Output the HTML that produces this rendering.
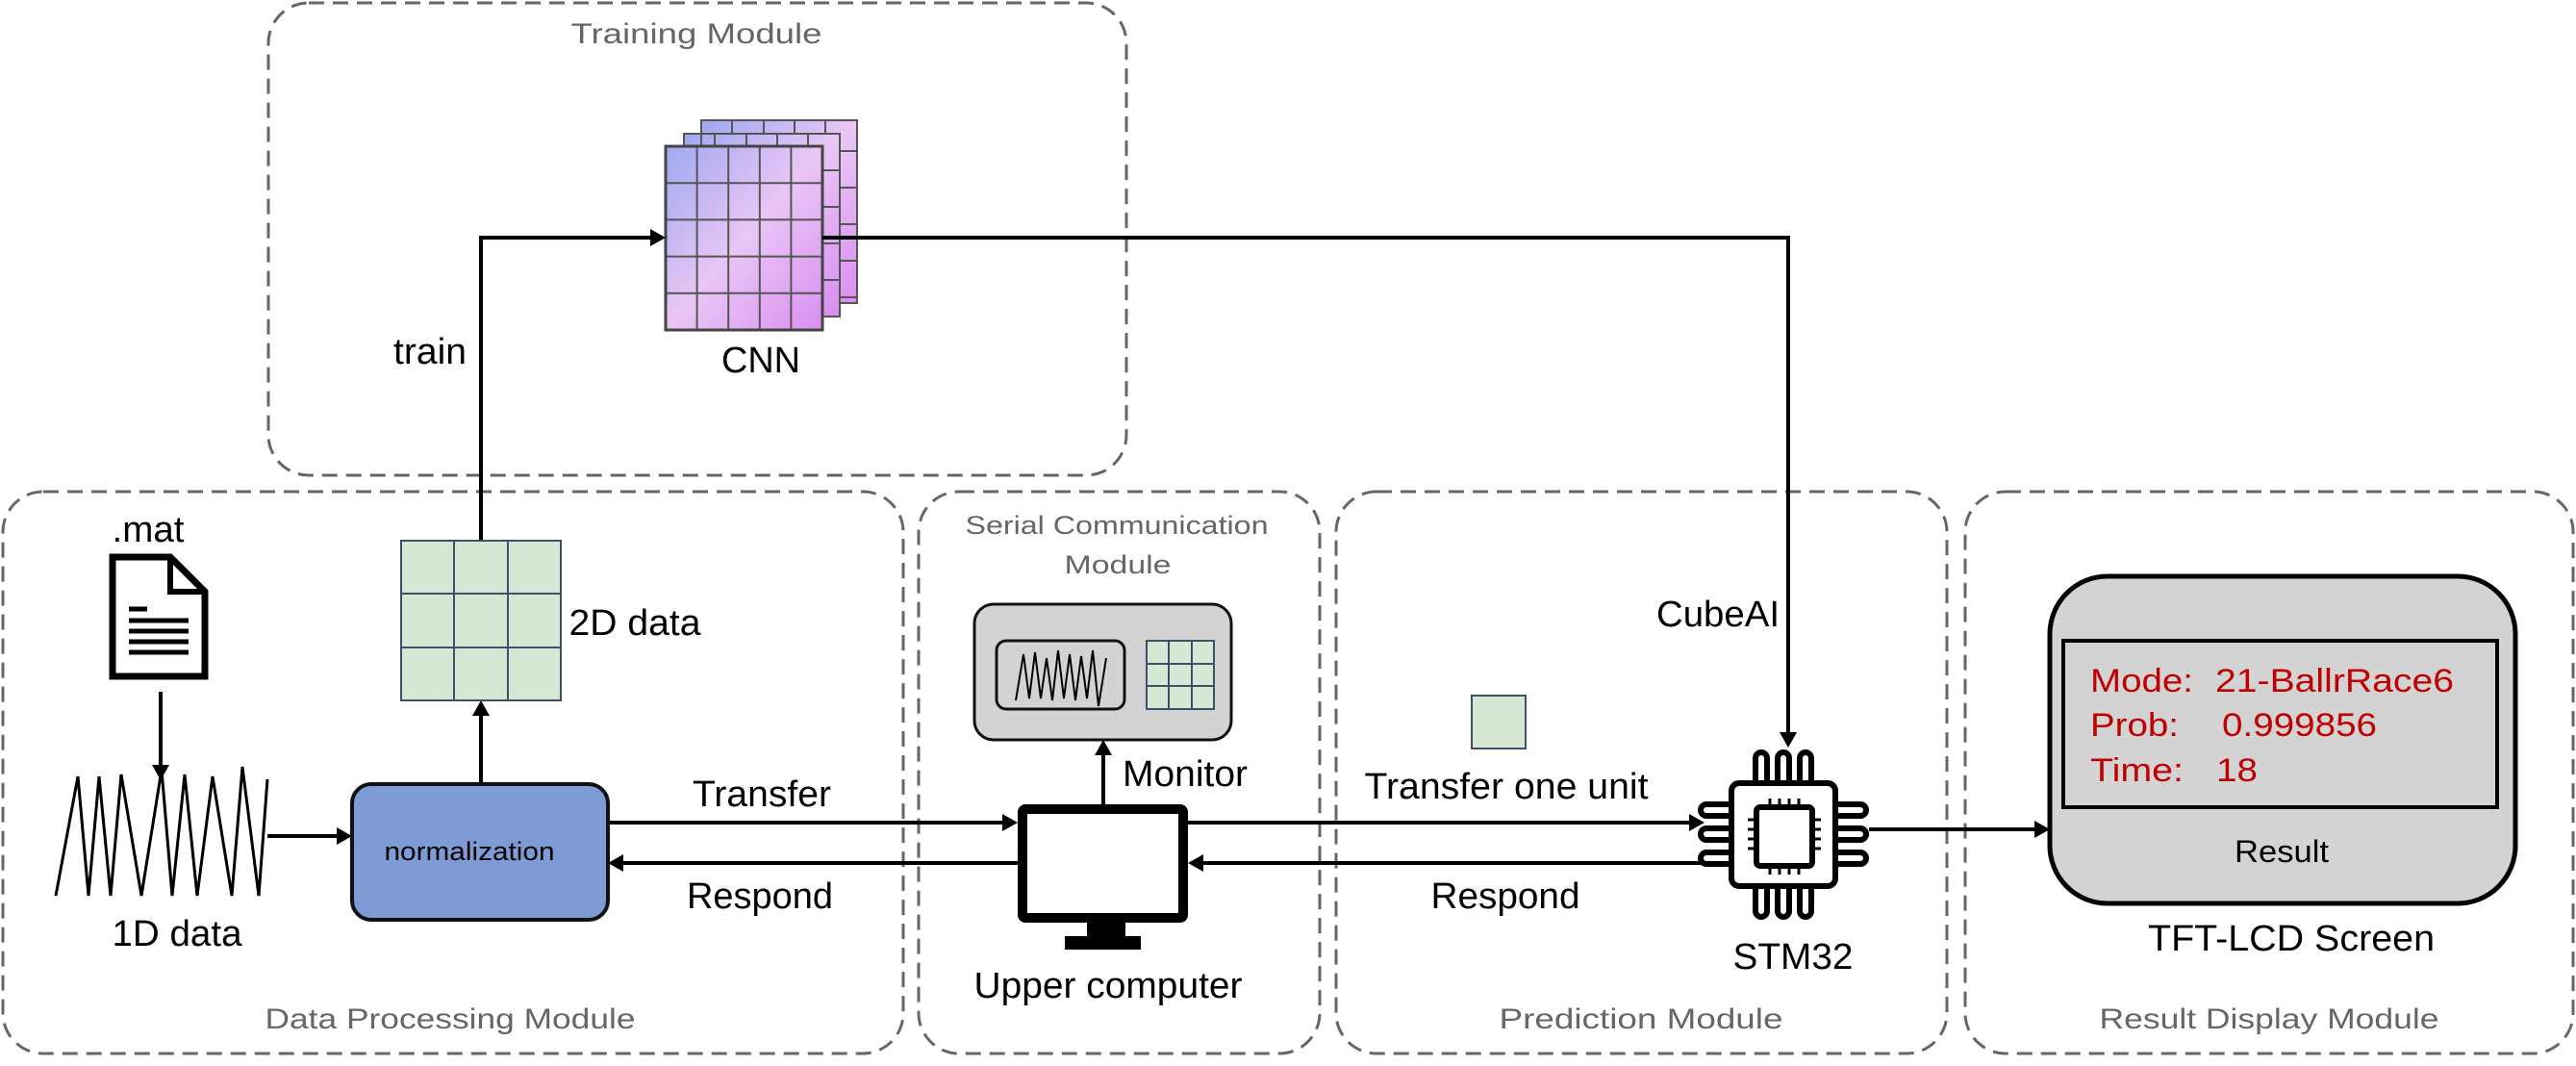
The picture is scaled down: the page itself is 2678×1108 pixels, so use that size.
<!DOCTYPE html>
<html><head><meta charset="utf-8"><style>
html,body{margin:0;padding:0;background:#fff;}
svg{display:block;}
text{font-family:"Liberation Sans",sans-serif;}
</style></head><body>
<svg width="2678" height="1108" viewBox="0 0 2678 1108" xmlns="http://www.w3.org/2000/svg">
<defs>
<marker id="ah" markerWidth="10" markerHeight="10" refX="9" refY="5" orient="auto" markerUnits="userSpaceOnUse" viewBox="0 0 10 10">
</marker>
<linearGradient id="cg" x1="0" y1="0" x2="1" y2="1">
<stop offset="0" stop-color="#9fa8f0"/><stop offset="0.5" stop-color="#e9c6f5"/><stop offset="1" stop-color="#d98ef0"/>
</linearGradient>
</defs>
<!-- module boxes -->
<g fill="none" stroke="#666" stroke-width="3" stroke-dasharray="16 9">
<rect x="279" y="3" width="892" height="491" rx="42"/>
<rect x="3" y="511" width="936" height="584" rx="42"/>
<rect x="955" y="511" width="417" height="584" rx="42"/>
<rect x="1389" y="511" width="635" height="584" rx="42"/>
<rect x="2043" y="511" width="632" height="584" rx="42"/>
</g>
<g fill="#666" font-size="30">
<text x="724" y="45" text-anchor="middle" textLength="261" lengthAdjust="spacingAndGlyphs">Training Module</text>
<text x="468" y="1069" text-anchor="middle" textLength="385" lengthAdjust="spacingAndGlyphs">Data Processing Module</text>
<text x="1161" y="555" text-anchor="middle" textLength="315" lengthAdjust="spacingAndGlyphs" font-size="27">Serial Communication</text>
<text x="1162" y="596" text-anchor="middle" textLength="111" lengthAdjust="spacingAndGlyphs" font-size="27">Module</text>
<text x="1706" y="1069" text-anchor="middle" textLength="295" lengthAdjust="spacingAndGlyphs">Prediction Module</text>
<text x="2359" y="1069" text-anchor="middle" textLength="353" lengthAdjust="spacingAndGlyphs">Result Display Module</text>
</g>
<!-- CNN stack -->
<g stroke="#555" stroke-width="2">
<g transform="translate(729,125)"><rect width="162" height="190" fill="url(#cg)"/></g>
<g transform="translate(711,139)"><rect width="162" height="190" fill="url(#cg)"/></g>
<g transform="translate(692,152)">
<rect width="163" height="191" fill="url(#cg)"/>
<path d="M32.6 0V191M65.2 0V191M97.8 0V191M130.4 0V191M0 38.2H163M0 76.4H163M0 114.6H163M0 152.8H163" fill="none"/>
</g>
<path d="M729 125V152M761 125V139M794 125V139M826 125V139M858 125V139M873 157H891M873 195H891M873 233H891M873 271H891M873 309H891M711 139V152M743 139V152M776 139V152M808 139V152M840 139V152M855 177H873M855 215H873M855 253H873M855 291H873M855 329H873" fill="none"/>
</g>
<rect x="692" y="152" width="163" height="191" fill="none" stroke="#444" stroke-width="3"/>
<g font-size="38" fill="#000">
<text x="791" y="387" text-anchor="middle" textLength="82" lengthAdjust="spacingAndGlyphs">CNN</text>
<text x="447" y="378" text-anchor="middle" textLength="76" lengthAdjust="spacingAndGlyphs">train</text>
<text x="154" y="563" text-anchor="middle" textLength="75" lengthAdjust="spacingAndGlyphs">.mat</text>
<text x="660" y="660" text-anchor="middle" textLength="137" lengthAdjust="spacingAndGlyphs">2D data</text>
<text x="184" y="983" text-anchor="middle" textLength="135" lengthAdjust="spacingAndGlyphs">1D data</text>
<text x="792" y="838" text-anchor="middle" textLength="144" lengthAdjust="spacingAndGlyphs">Transfer</text>
<text x="790" y="944" text-anchor="middle" textLength="152" lengthAdjust="spacingAndGlyphs">Respond</text>
<text x="1232" y="817" text-anchor="middle" textLength="130" lengthAdjust="spacingAndGlyphs">Monitor</text>
<text x="1152" y="1037" text-anchor="middle" textLength="279" lengthAdjust="spacingAndGlyphs">Upper computer</text>
<text x="1786" y="651" text-anchor="middle" textLength="128" lengthAdjust="spacingAndGlyphs">CubeAI</text>
<text x="1566" y="830" text-anchor="middle" textLength="295" lengthAdjust="spacingAndGlyphs">Transfer one unit</text>
<text x="1565" y="944" text-anchor="middle" textLength="155" lengthAdjust="spacingAndGlyphs">Respond</text>
<text x="1864" y="1007" text-anchor="middle" textLength="125" lengthAdjust="spacingAndGlyphs">STM32</text>
<text x="2382" y="988" text-anchor="middle" textLength="298" lengthAdjust="spacingAndGlyphs">TFT-LCD Screen</text>
</g>
<!-- connectors -->
<g stroke="#000" stroke-width="4" fill="none">
<path d="M500 562V247H680"/>
<path d="M855 247H1859V764"/>
<path d="M167 719V798"/>
<path d="M278 869H354"/>
<path d="M500 815V740"/>
<path d="M632 855H1046"/>
<path d="M1058 897H646"/>
<path d="M1147 836V782"/>
<path d="M1235 855H1758"/>
<path d="M1768 897H1249"/>
<path d="M1943 862H2119"/>
</g>
<g fill="#000">
<path d="M692 247l-16-9v18z"/>
<path d="M1859 777l-9-16h18z"/>
<path d="M167 811l-9-16h18z"/>
<path d="M366 869l-16-9v18z"/>
<path d="M500 728l-9 16h18z"/>
<path d="M1058 855l-16-9v18z"/>
<path d="M632 897l16-9v18z"/>
<path d="M1147 769l-9 16h18z"/>
<path d="M1772 855l-16-9v18z"/>
<path d="M1235 897l16-9v18z"/>
<path d="M2131 862l-16-9v18z"/>
</g>
<!-- 2D grid -->
<g stroke="#3d4f6b" stroke-width="2" fill="#d5e8d4">
<rect x="417" y="562" width="166" height="166"/>
<path d="M472 562V728M528 562V728M417 617H583M417 673H583" fill="none"/>
<rect x="1530" y="723" width="56" height="55"/>
</g>
<!-- doc icon -->
<path d="M117 579H177L213 615V703H117Z" fill="#fff" stroke="#000" stroke-width="7"/>
<path d="M177 579V615H213" fill="none" stroke="#000" stroke-width="6"/>
<g stroke="#000" stroke-width="5"><path d="M134 633H153M134 645H196M134 656H196M134 667H196M134 678H196"/></g>
<!-- zigzag -->
<polyline points="58,931 81,807 92,931 103,807 115,931 126,805 147,931 168,800 179,931 192,805 205,931 221,807 241,931 252,797 269,931 278,810" fill="none" stroke="#000" stroke-width="3"/>
<!-- normalization -->
<rect x="366" y="815" width="266" height="141" rx="20" fill="#7e9bd6" stroke="#111" stroke-width="4"/>
<text x="488" y="894" font-size="27" text-anchor="middle" textLength="177" lengthAdjust="spacingAndGlyphs">normalization</text>
<!-- serial display -->
<rect x="1013" y="628" width="267" height="141" rx="20" fill="#d3d3d3" stroke="#111" stroke-width="3"/>
<rect x="1036" y="666" width="133" height="71" rx="10" fill="#d3d3d3" stroke="#111" stroke-width="3"/>
<polyline points="1056,728 1064,680 1070,726 1076,678 1082,726 1088,684 1094,728 1100,676 1106,726 1112,680 1118,728 1124,682 1130,726 1136,676 1142,734 1150,684" fill="none" stroke="#000" stroke-width="2"/>
<g stroke="#3d4f6b" stroke-width="2" fill="#d5e8d4">
<rect x="1192" y="666" width="70" height="71"/>
<path d="M1215 666V737M1239 666V737M1192 690H1262M1192 713H1262" fill="none"/>
</g>
<!-- monitor -->
<rect x="1063" y="841" width="167" height="113" fill="#fff" stroke="#000" stroke-width="10" rx="3"/>
<rect x="1130" y="957" width="40" height="18" fill="#000"/>
<rect x="1107" y="973" width="79" height="14" fill="#000"/>
<!-- chip -->
<g fill="none" stroke="#000" stroke-width="6">
<rect x="1800" y="814" width="108" height="107" rx="8" fill="#fff"/>
<rect x="1826" y="839" width="58" height="61" rx="4"/>
<path d="M1825 811V788a6 6 0 0 1 12 0V811M1848 811V788a6 6 0 0 1 12 0V811M1871 811V788a6 6 0 0 1 12 0V811"/>
<path d="M1825 924V947a6 6 0 0 0 12 0V924M1848 924V947a6 6 0 0 0 12 0V924M1871 924V947a6 6 0 0 0 12 0V924"/>
<path d="M1797 836H1774a6 6 0 0 0 0 12H1797M1797 861H1774a6 6 0 0 0 0 12H1797M1797 886H1774a6 6 0 0 0 0 12H1797"/>
<path d="M1911 836H1934a6 6 0 0 1 0 12H1911M1911 861H1934a6 6 0 0 1 0 12H1911M1911 886H1934a6 6 0 0 1 0 12H1911"/>
</g>
<g stroke="#000" stroke-width="3"><path d="M1840 830V839M1850 830V839M1860 830V839M1870 830V839M1840 900V909M1850 900V909M1860 900V909M1870 900V909M1817 852H1826M1817 862H1826M1817 872H1826M1817 882H1826M1884 852H1893M1884 862H1893M1884 872H1893M1884 882H1893"/></g>
<!-- result -->
<rect x="2131" y="599" width="484" height="340" rx="60" fill="#d3d3d3" stroke="#000" stroke-width="5"/>
<rect x="2145" y="666" width="451" height="173" fill="#d3d3d3" stroke="#000" stroke-width="4"/>
<g fill="#c00000" font-size="34">
<text x="2173" y="719" textLength="107" lengthAdjust="spacingAndGlyphs">Mode:</text>
<text x="2303" y="719" textLength="248" lengthAdjust="spacingAndGlyphs">21-BallrRace6</text>
<text x="2173" y="765" textLength="92" lengthAdjust="spacingAndGlyphs">Prob:</text>
<text x="2310" y="765" textLength="161" lengthAdjust="spacingAndGlyphs">0.999856</text>
<text x="2173" y="812" textLength="97" lengthAdjust="spacingAndGlyphs">Time:</text>
<text x="2304" y="812" textLength="43" lengthAdjust="spacingAndGlyphs">18</text>
</g>
<text x="2372" y="896" font-size="32" text-anchor="middle" textLength="98" lengthAdjust="spacingAndGlyphs">Result</text>
</svg>
</body></html>
